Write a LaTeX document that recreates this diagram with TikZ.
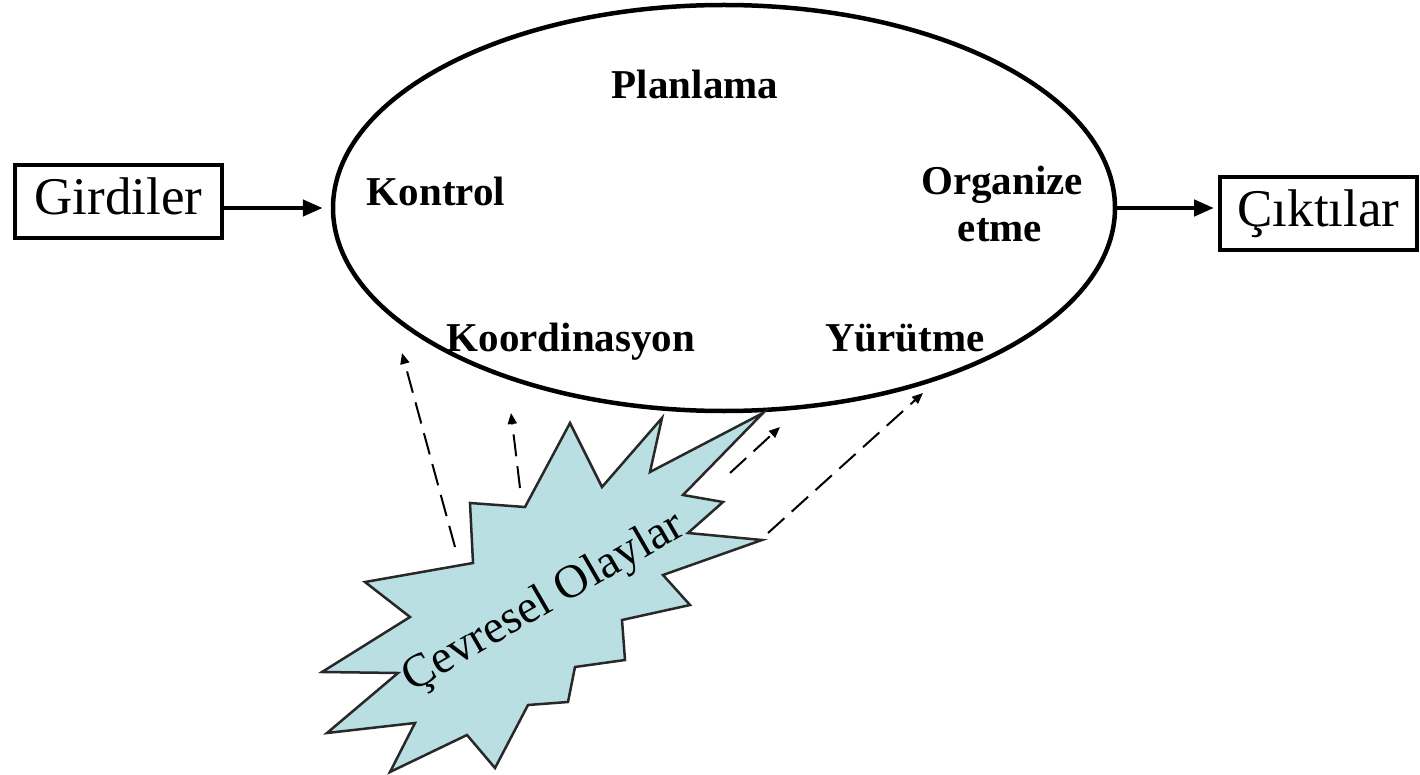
\documentclass[tikz,border=0pt]{standalone}
\usepackage{fontspec}
\setmainfont{Liberation Serif}
\usetikzlibrary{arrows.meta,shapes.geometric}
\definecolor{burstfill}{RGB}{185,223,227}
\definecolor{burstline}{RGB}{40,40,40}
\begin{document}
\begin{tikzpicture}[x=1pt,y=-1pt,
  iobox/.style={draw, line width=4pt, inner sep=0pt,
    minimum height=73pt, text height=36pt, text depth=10pt,
    font=\fontsize{53}{53}\selectfont},
  core/.style={draw, ellipse, line width=4.5pt, inner sep=0pt,
    minimum width=782pt, minimum height=406pt},
  lab/.style={font=\fontsize{41}{47}\selectfont\bfseries, anchor=base, inner sep=0pt},
  flow/.style={line width=4.5pt, -{Triangle[length=20pt,width=16pt]}},
  influence/.style={line width=2pt, dash pattern=on 22pt off 10pt,
    -{Triangle[length=11pt,width=9pt]}},
  burst/.style={draw=burstline, fill=burstfill, line width=2.5pt, line join=miter},
]
\useasboundingbox (0,0) rectangle (1420,775);

% inputs, process, outputs
\node[iobox, minimum width=207pt] (in) at (118.5,201.5) {Girdiler};
\node[core] (proc) at (724,208) {};
\node[iobox, minimum width=197pt] (out) at (1318.5,214) {Çıktılar};

\draw[flow, shorten >=8pt] (in.east |- proc.center) -- (proc.west);
\draw[flow, shorten >=4pt] (proc.east) -- (out.west |- proc.east);

% management functions
\node[lab] (plan) at (695,99) {Planlama};
\node[lab] (ctrl) at (436,206) {Kontrol};
\node[lab] (org1) at (1002,195) {Organize};
\node[lab] (org2) at (1000,242) {etme};
\node[lab] (coord) at (571,351) {Koordinasyon};
\node[lab] (exec) at (905,351) {Yürütme};

% environmental events burst
\draw[burst] (570,423) -- (602,487) -- (662,418) -- (650,472) -- (763,413)
  -- (683,495) -- (723,502) -- (688,533) -- (762,540) -- (663,575)
  -- (690,605) -- (622,620) -- (625,660) -- (575,667) -- (568,702)
  -- (528,705) -- (495,768) -- (467,735) -- (390,772) -- (415,723)
  -- (327,733) -- (398,673) -- (322,672) -- (410,617) -- (365,582)
  -- (473,563) -- (470,503) -- (525,507) -- cycle;
\node[rotate=30, inner sep=0pt, font=\fontsize{47}{47}\selectfont] (env) at (544,603) {Çevresel Olaylar};

% influence arrows
\coordinate (s1) at (455,547); \coordinate (t1) at (402,353);
\coordinate (s2) at (520,488); \coordinate (t2) at (511,413);
\coordinate (s3) at (730,473); \coordinate (t3) at (780,427);
\coordinate (s4) at (768,533); \coordinate (t4) at (923,393);
\draw[influence] (s1) -- (t1);
\draw[influence] (s2) -- (t2);
\draw[influence] (s3) -- (t3);
\draw[influence] (s4) -- (t4);
\end{tikzpicture}
\end{document}
